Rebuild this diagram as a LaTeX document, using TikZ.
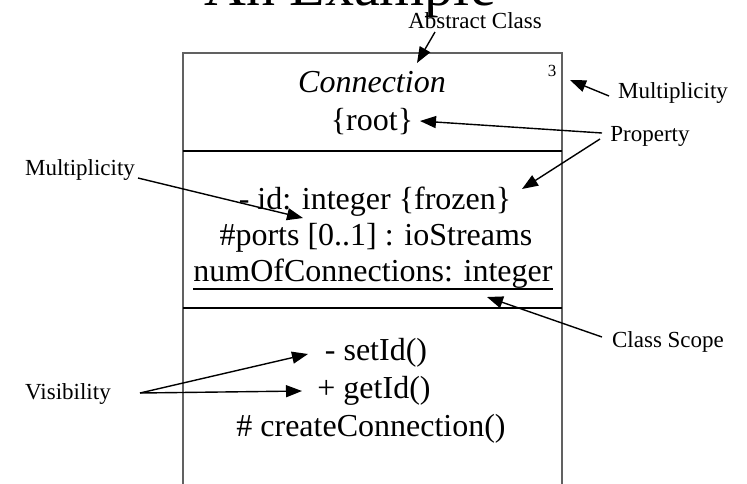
\documentclass[tikz,border=0pt]{standalone}
\usepackage{fontspec}
\setmainfont{Liberation Serif}
\usetikzlibrary{arrows.meta}
\begin{document}
\begin{tikzpicture}[x=1pt,y=-1pt,
  lbl/.style={font=\fontsize{23}{27}\selectfont, inner sep=0pt},
  maintext/.style={font=\fontsize{32}{37}\selectfont, inner sep=0pt, anchor=base},
  pointer/.style={-{Triangle[length=16pt,width=12pt]}, line width=1.4pt},
  boxline/.style={draw=black!62, line width=1.4pt},
  sepline/.style={draw=black, line width=2.4pt}]
\useasboundingbox (0,0) rectangle (747,483);
\clip (0,0) rectangle (747,483);
% title (cut off at top)
\node[font=\fontsize{58}{60}\selectfont, anchor=base, inner sep=0pt] (title) at (350,5) {An Example};
% class box
\coordinate (bl) at (183,500);
\coordinate (tl) at (183,53);
\coordinate (tr) at (562,53);
\coordinate (br) at (562,500);
\draw[boxline] (bl) -- (tl) -- (tr) -- (br);
\coordinate (s1l) at (183,151); \coordinate (s1r) at (562,151);
\coordinate (s2l) at (183,308); \coordinate (s2r) at (562,308);
\draw[sepline] (s1l) -- (s1r);
\draw[sepline] (s2l) -- (s2r);
% compartment texts
\node[maintext, font=\fontsize{32}{37}\selectfont\itshape] (cname) at (372,92) {Connection};
\node[maintext] (root) at (372,130) {\{root\}};
\node[font=\fontsize{17}{20}\selectfont, inner sep=0pt] (three) at (552,71) {3};
\node[maintext] (id) at (375,209) {- id: integer \{frozen\}};
\node[maintext] (ports) at (376,245) {\#ports [0..1] : ioStreams};
\node[maintext] (numof) at (373,281) {numOfConnections: integer};
\draw[line width=1.9pt] ([yshift=-8pt]numof.base west) -- ([yshift=-8pt]numof.base east);
\node[maintext] (setid) at (376,360) {- setId()};
\node[maintext] (getid) at (374,398) {+ getId()};
\node[maintext] (create) at (371,436) {\# createConnection()};
% labels
\node[lbl] (abs) at (475,21) {Abstract Class};
\node[lbl] (multR) at (673,93) {Multiplicity};
\node[lbl] (prop) at (650,136) {Property};
\node[lbl] (multL) at (80,170) {Multiplicity};
\node[lbl] (scope) at (668,342) {Class Scope};
\node[lbl] (vis) at (68,394) {Visibility};
% arrow endpoints
\coordinate (absS) at (435,32);   \coordinate (absT) at (417,63);
\coordinate (mRS) at (609,96);    \coordinate (mRT) at (570,80);
\coordinate (pS1) at (602,133);   \coordinate (pT1) at (420,121);
\coordinate (pS2) at (600,139);   \coordinate (pT2) at (522,189);
\coordinate (mLS) at (138,178);   \coordinate (mLT) at (303,218);
\coordinate (csS) at (602,337);   \coordinate (csT) at (487,297);
\coordinate (vS) at (140,393);    \coordinate (vT1) at (308,354);  \coordinate (vT2) at (302,391);
\draw[pointer] (absS) -- (absT);
\draw[pointer] (mRS) -- (mRT);
\draw[pointer] (pS1) -- (pT1);
\draw[pointer] (pS2) -- (pT2);
\draw[pointer] (mLS) -- (mLT);
\draw[pointer] (csS) -- (csT);
\draw[pointer] (vS) -- (vT1);
\draw[pointer] (vS) -- (vT2);
\end{tikzpicture}
\end{document}
